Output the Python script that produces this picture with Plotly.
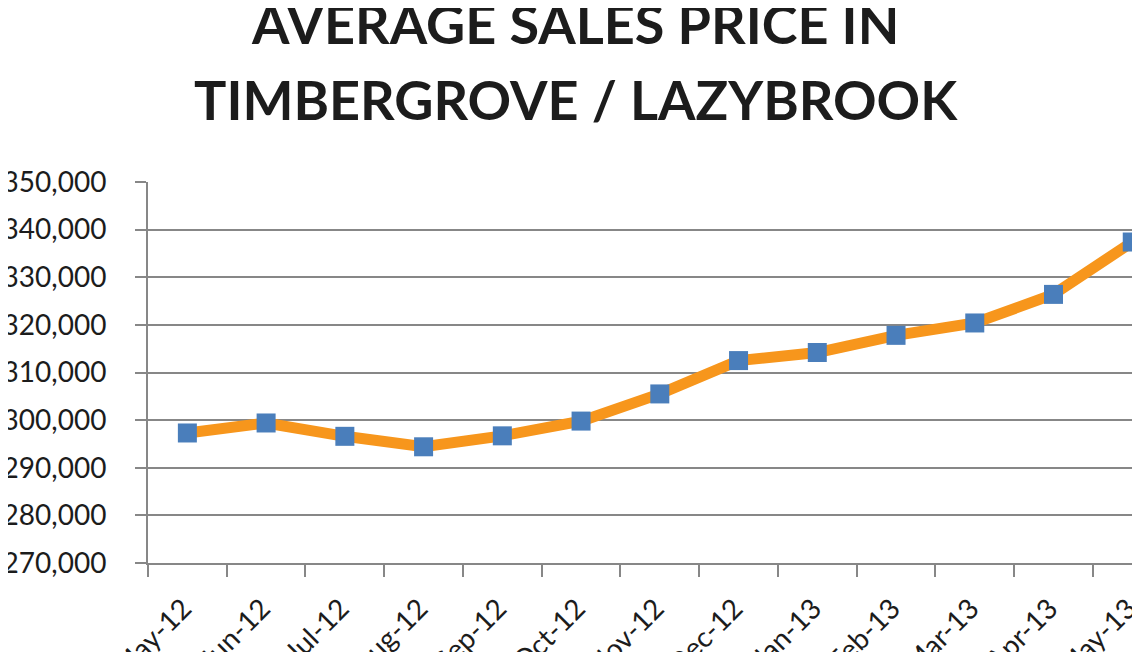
import plotly.graph_objects as go

months = ["May-12", "Jun-12", "Jul-12", "Aug-12", "Sep-12", "Oct-12", "Nov-12",
          "Dec-12", "Jan-13", "Feb-13", "Mar-13", "Apr-13", "May-13"]
avg_price = [297300, 299400, 296600, 294400, 296700, 299800, 305500,
             312500, 314200, 317800, 320400, 326400, 337400]
y_ticks = [270000, 280000, 290000, 300000, 310000, 320000, 330000, 340000, 350000]
y_labels = ["$" + format(v, ",") for v in y_ticks]

TEXT = "#1c1c1c"
GRID = "#878787"
ORANGE = "#F7961C"
BLUE = "#4A7EBB"

# the page body has an 8px margin, so the figure is drawn 8px right and down
L, T, B = 140, 174, 97

fig = go.Figure()

fig.add_trace(go.Scatter(
    x=months, y=avg_price, mode="lines+markers",
    line=dict(color=ORANGE, width=11),
    marker=dict(symbol="square", size=19, color=BLUE),
    cliponaxis=False, showlegend=False,
))

titles = [("<b>AVERAGE SALES PRICE IN</b>", 567, 15),
          ("<b>TIMBERGROVE / LAZYBROOK</b>", 568, 91)]
for text, px, py in titles:
    fig.add_annotation(
        text=text, xref="paper", yref="paper", showarrow=False,
        x=(px - L) / (1140 - L), y=1 + (T - py) / (652 - T - B),
        xanchor="center", yanchor="middle",
        font=dict(family="Lato", size=54, color=TEXT),
    )

fig.update_layout(
    width=1140, height=652,
    margin=dict(l=L, r=0, t=T, b=B, autoexpand=False),
    plot_bgcolor="white", paper_bgcolor="white",
    font=dict(family="Lato", color=TEXT, size=28),
    xaxis=dict(
        type="category", range=[-0.5, 12.2],
        tickson="boundaries", ticks="outside", ticklen=12, tickcolor=GRID, tickwidth=2,
        showline=True, linecolor=GRID, linewidth=2,
        showgrid=False, tickangle=-45, automargin=False,
        ticklabelstandoff=16, ticklabelshift=-4,
        tickfont=dict(size=28, color=TEXT),
    ),
    yaxis=dict(
        range=[270000, 350000], tickvals=y_ticks, ticktext=y_labels,
        ticks="outside", ticklen=11, tickcolor=GRID, tickwidth=2,
        showline=True, linecolor=GRID, linewidth=2,
        showgrid=True, gridcolor=GRID, gridwidth=2, zeroline=False,
        automargin=False, ticklabelstandoff=23,
        tickfont=dict(size=28, color=TEXT),
    ),
)

fig.write_html("out.html")
